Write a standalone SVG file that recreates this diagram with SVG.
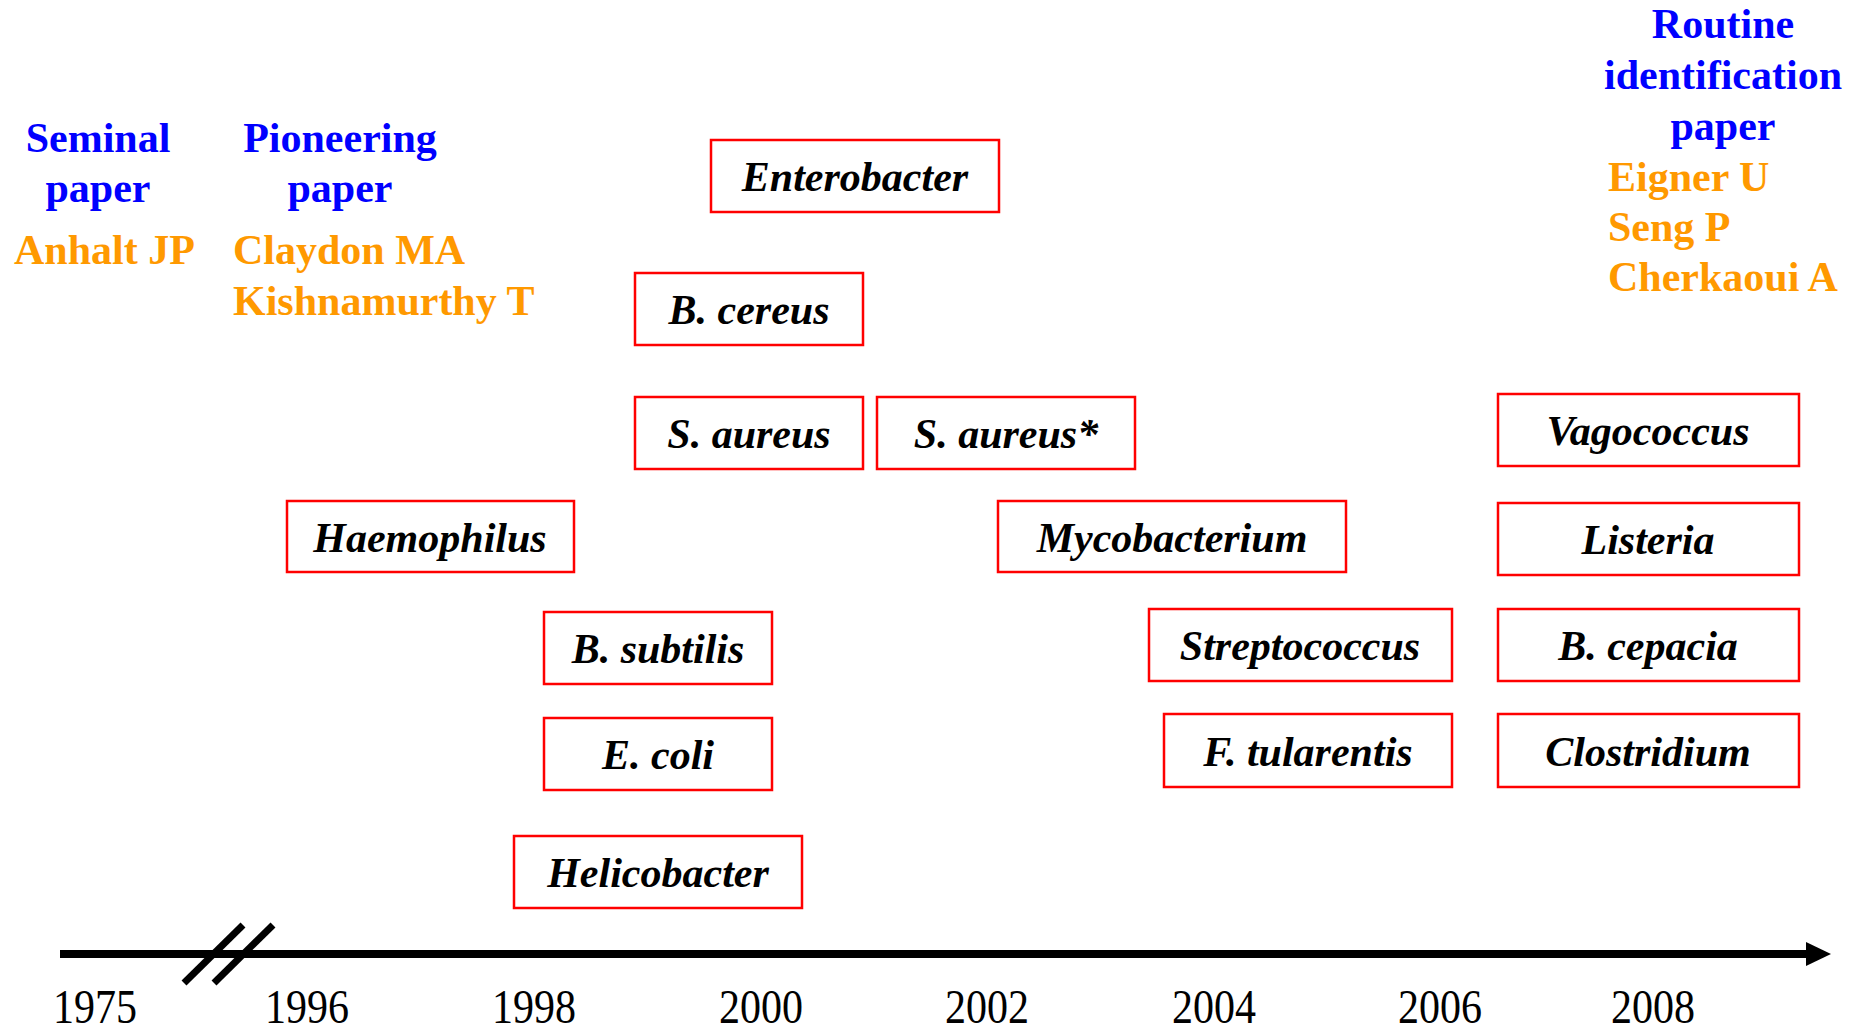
<svg xmlns="http://www.w3.org/2000/svg" width="1861" height="1027" viewBox="0 0 1861 1027">
<style>
.box{fill:#fff;stroke:#ff0000;stroke-width:2.5}
.lbl{font-family:"Liberation Serif","Times New Roman",serif;font-weight:bold;font-style:italic;font-size:42px;fill:#000;text-anchor:middle}
.hd{font-family:"Liberation Serif","Times New Roman",serif;font-weight:bold;font-size:42px;fill:#0000ff;text-anchor:middle}
.au{font-family:"Liberation Serif","Times New Roman",serif;font-weight:bold;font-size:42px;fill:#ff9900}
.yr{font-family:"Liberation Serif","Times New Roman",serif;font-size:49px;fill:#000;text-anchor:middle}
</style>
<rect width="1861" height="1027" fill="#fff"/>
<g id="headers">
<text class="hd" x="98" y="152">Seminal</text>
<text class="hd" x="98" y="202">paper</text>
<text class="au" x="14" y="264">Anhalt JP</text>
<text class="hd" x="340" y="152">Pioneering</text>
<text class="hd" x="340" y="202">paper</text>
<text class="au" x="233" y="264">Claydon MA</text>
<text class="au" x="233" y="315">Kishnamurthy T</text>
<text class="hd" x="1723" y="38">Routine</text>
<text class="hd" x="1723" y="89">identification</text>
<text class="hd" x="1723" y="140">paper</text>
<text class="au" x="1608" y="191">Eigner U</text>
<text class="au" x="1608" y="241">Seng P</text>
<text class="au" x="1608" y="291">Cherkaoui A</text>
</g>
<g id="n-enterobacter"><rect class="box" x="711" y="140" width="288" height="72"/><text class="lbl" x="855" y="191">Enterobacter</text></g>
<g id="n-bcereus"><rect class="box" x="635" y="273" width="228" height="72"/><text class="lbl" x="749" y="324">B. cereus</text></g>
<g id="n-saureus"><rect class="box" x="635" y="397" width="228" height="72"/><text class="lbl" x="749" y="448">S. aureus</text></g>
<g id="n-saureus2"><rect class="box" x="877" y="397" width="258" height="72"/><text class="lbl" x="1006" y="448">S. aureus*</text></g>
<g id="n-haemophilus"><rect class="box" x="287" y="501" width="287" height="71"/><text class="lbl" x="430" y="552">Haemophilus</text></g>
<g id="n-mycobacterium"><rect class="box" x="998" y="501" width="348" height="71"/><text class="lbl" x="1172" y="552">Mycobacterium</text></g>
<g id="n-vagococcus"><rect class="box" x="1498" y="394" width="301" height="72"/><text class="lbl" x="1648" y="445">Vagococcus</text></g>
<g id="n-listeria"><rect class="box" x="1498" y="503" width="301" height="72"/><text class="lbl" x="1648" y="554">Listeria</text></g>
<g id="n-bsubtilis"><rect class="box" x="544" y="612" width="228" height="72"/><text class="lbl" x="658" y="663">B. subtilis</text></g>
<g id="n-ecoli"><rect class="box" x="544" y="718" width="228" height="72"/><text class="lbl" x="658" y="769">E. coli</text></g>
<g id="n-helicobacter"><rect class="box" x="514" y="836" width="288" height="72"/><text class="lbl" x="658" y="887">Helicobacter</text></g>
<g id="n-streptococcus"><rect class="box" x="1149" y="609" width="303" height="72"/><text class="lbl" x="1300" y="660">Streptococcus</text></g>
<g id="n-ftularentis"><rect class="box" x="1164" y="714" width="288" height="73"/><text class="lbl" x="1308" y="766">F. tularentis</text></g>
<g id="n-bcepacia"><rect class="box" x="1498" y="609" width="301" height="72"/><text class="lbl" x="1648" y="660">B. cepacia</text></g>
<g id="n-clostridium"><rect class="box" x="1498" y="714" width="301" height="73"/><text class="lbl" x="1648" y="766">Clostridium</text></g>
<g id="connectors">
<line x1="60" y1="954" x2="1810" y2="954" stroke="#000" stroke-width="8"/>
<polygon points="1806,942 1831,954 1806,966" fill="#000"/>
<line x1="184" y1="983" x2="243" y2="925" stroke="#000" stroke-width="7"/>
<line x1="214" y1="983" x2="273" y2="925" stroke="#000" stroke-width="7"/>
</g>
<g id="years">
<text class="yr" x="95" y="1023" textLength="84" lengthAdjust="spacingAndGlyphs">1975</text>
<text class="yr" x="307" y="1023" textLength="84" lengthAdjust="spacingAndGlyphs">1996</text>
<text class="yr" x="534" y="1023" textLength="84" lengthAdjust="spacingAndGlyphs">1998</text>
<text class="yr" x="761" y="1023" textLength="84" lengthAdjust="spacingAndGlyphs">2000</text>
<text class="yr" x="987" y="1023" textLength="84" lengthAdjust="spacingAndGlyphs">2002</text>
<text class="yr" x="1214" y="1023" textLength="84" lengthAdjust="spacingAndGlyphs">2004</text>
<text class="yr" x="1440" y="1023" textLength="84" lengthAdjust="spacingAndGlyphs">2006</text>
<text class="yr" x="1653" y="1023" textLength="84" lengthAdjust="spacingAndGlyphs">2008</text>
</g>
</svg>
